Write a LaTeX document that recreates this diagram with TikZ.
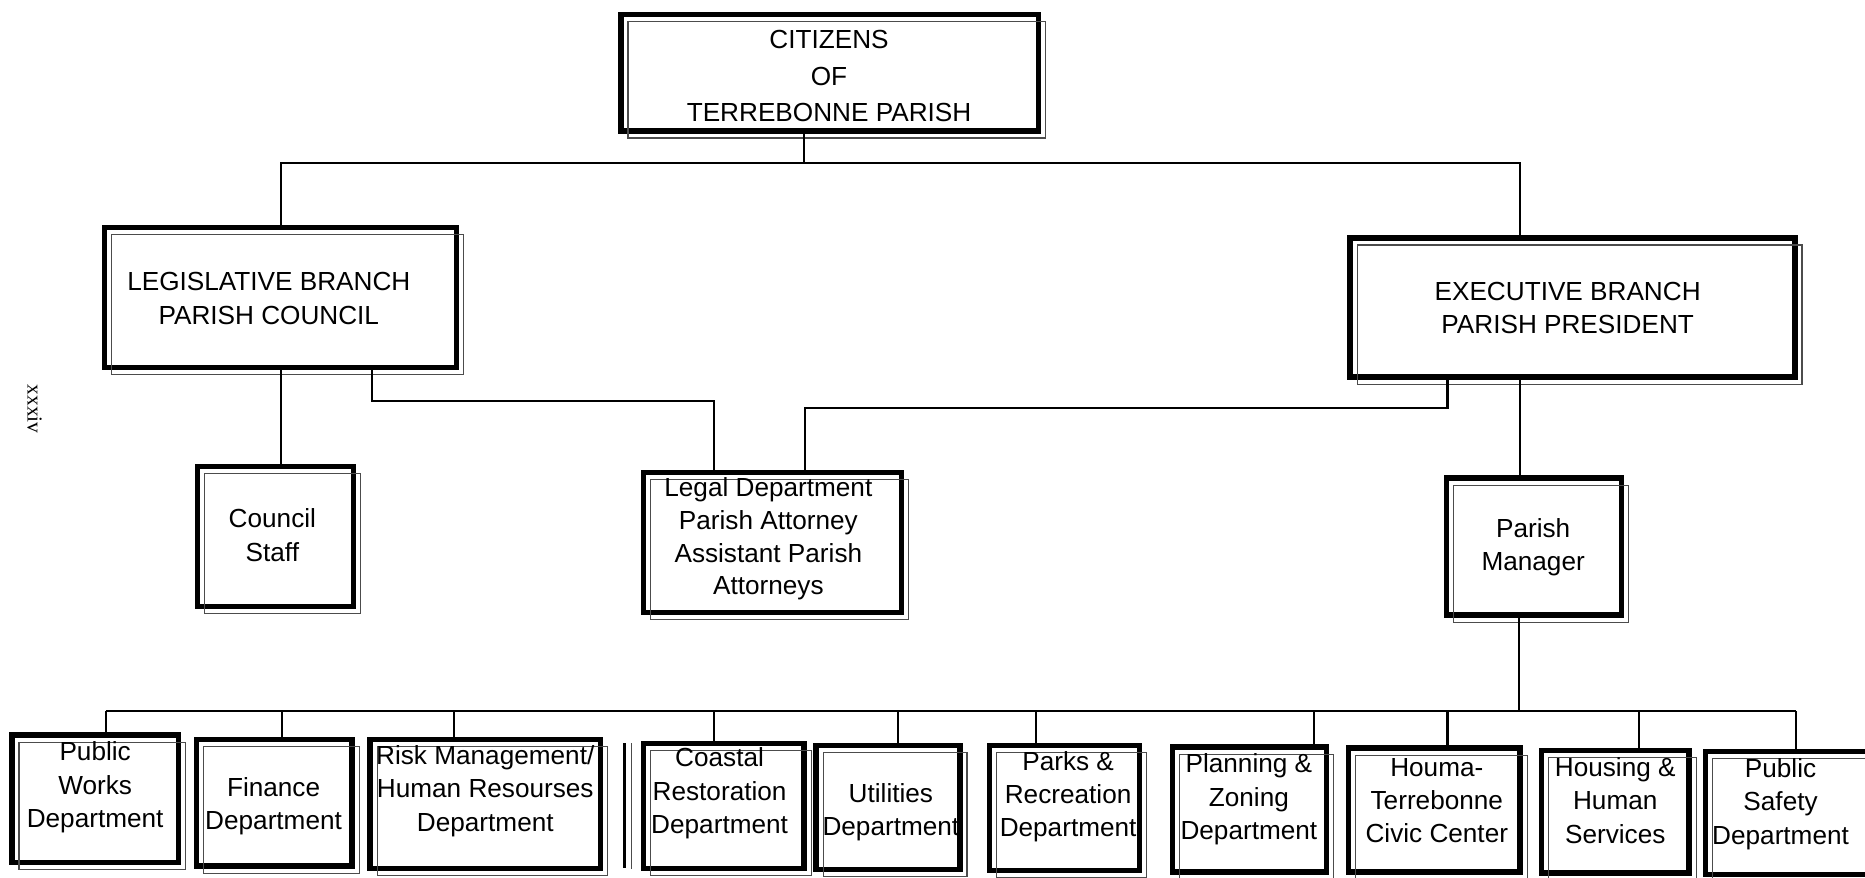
\documentclass[tikz,border=0pt]{standalone}
\usepackage{fontspec}
\setmainfont{Liberation Sans}
\newfontfamily\pnfont{Liberation Serif}
\begin{document}
\begin{tikzpicture}[x=1pt,y=-1pt,
  obox/.style={draw, line width=4.5pt, inner sep=0pt, outer sep=0pt},
  lbl/.style={font=\fontsize{22}{28}\selectfont, align=center, inner sep=0pt},
  link/.style={line width=1.8pt},
  thinline/.style={draw=black!70, line width=0.9pt}]
\useasboundingbox (0,0) rectangle (1568,738);

% upper boxes
\node[obox, minimum width=351pt, minimum height=98pt] (cit) at (697.5,61) {};
\node[obox, minimum width=296pt, minimum height=118pt] (leg) at (236,250) {};
\node[obox, minimum width=374pt, minimum height=117pt] (exe) at (1322,258.5) {};
\node[obox, minimum width=131pt, minimum height=118pt] (cs) at (231.5,451) {};
\node[obox, minimum width=217pt, minimum height=118pt] (legal) at (649.5,456) {};
\node[obox, minimum width=147pt, minimum height=115pt] (pm) at (1289.5,459.5) {};

% bottom boxes
\node[obox, minimum width=140pt, minimum height=107pt] (pw) at (80,671.5) {};
\node[obox, minimum width=131pt, minimum height=106pt] (fin) at (230.5,675) {};
\node[obox, minimum width=194pt, minimum height=108pt] (risk) at (408,676) {};
\node[obox, minimum width=135pt, minimum height=105pt] (coast) at (608.5,677.5) {};
\node[obox, minimum width=121pt, minimum height=104pt] (util) at (746.5,679) {};
\node[obox, minimum width=126pt, minimum height=105pt] (parks) at (895,679.5) {};
\node[obox, minimum width=129pt, minimum height=105pt] (plan) at (1050.5,680.5) {};
\node[obox, minimum width=144pt, minimum height=104pt] (houma) at (1206,681) {};
\node[obox, minimum width=124pt, minimum height=103pt] (housing) at (1358,682.5) {};
\node[obox, minimum width=156pt, minimum height=103pt] (ps) at (1512,683.5) {};

% thin offset frames
\foreach \n in {cit,leg,exe,cs,legal,pm,pw,fin,risk,coast,util,parks,plan,houma,housing,ps}
  \draw[thinline] ([shift={(6,6)}]\n.north west) rectangle ([shift={(6,6)}]\n.south east);

% stray double rule between Risk and Coastal boxes
\draw[line width=3pt] (525,625) -- (525,730);
\draw[thinline] (531,625) -- (531,731);

% labels
\node[lbl, font=\fontsize{22}{30.5}\selectfont] (citT) at (697,64) {CITIZENS\\OF\\TERREBONNE PARISH};
\node[lbl] (legT) at (226,251) {LEGISLATIVE BRANCH\\PARISH COUNCIL};
\node[lbl] (exeT) at (1318,259) {EXECUTIVE BRANCH\\PARISH PRESIDENT};
\node[lbl] (csT) at (229,450) {Council\\Staff};
\node[lbl, font=\fontsize{22}{27.7}\selectfont] (legalT) at (646,453) {Legal Department\\Parish Attorney\\Assistant Parish\\Attorneys};
\node[lbl] (pmT) at (1289,460) {Parish\\Manager};

\node[lbl] (pwT) at (80,662) {Public\\Works\\Department};
\node[lbl] (finT) at (230,678) {Finance\\Department};
\node[lbl] (riskT) at (408,665) {Risk Management/\\Human Resourses\\Department};
\node[lbl] (coastT) at (605,667) {Coastal\\Restoration\\Department};
\node[lbl] (utilT) at (749,683) {Utilities\\Department};
\node[lbl] (parksT) at (898,670) {Parks \&\\Recreation\\Department};
\node[lbl] (planT) at (1050,672) {Planning \&\\Zoning\\Department};
\node[lbl] (houmaT) at (1208,673) {Houma-\\Terrebonne\\Civic Center};
\node[lbl] (housingT) at (1358,673) {Housing \&\\Human\\Services};
\node[lbl] (psT) at (1497,676) {Public\\Safety\\Department};

% page number
\node[font=\pnfont\fontsize{18}{18}\selectfont, rotate=-90, inner sep=0pt] (pg) at (29,344) {xxxiv};

% connectors
\coordinate (top) at (676,137);
\coordinate (bus) at (0,598);
\draw[link] (cit.south -| top) -- (top);
\draw[link] (leg.north) |- (top) -| ([xshift=-44pt]exe.north);
\draw[link] (leg.south) -- (leg.south |- cs.north);
\draw[link] ([xshift=77pt]leg.south) -- ++(0,28) -| ([xshift=-49.5pt]legal.north);
\draw[link] ([xshift=-105pt]exe.south) -- ++(0,26) -| ([xshift=27.5pt]legal.north);
\draw[link] ([xshift=-44pt]exe.south) -- ([xshift=-44pt]exe.south |- pm.north);
\draw[link] ([xshift=-12.5pt]pm.south) -- ([xshift=-12.5pt]pm.south |- bus);
\draw[link] ([xshift=9pt]pw.north |- bus) -- ([xshift=-2pt]ps.north |- bus);
\foreach \n/\d in {pw/9,fin/6.5,risk/-26,coast/-8.5,util/8.5,parks/-24,plan/54.5,houma/11,housing/20,ps/-2}
  \draw[link] ([xshift=\d pt]\n.north) -- ([xshift=\d pt]\n.north |- bus);
\end{tikzpicture}
\end{document}
